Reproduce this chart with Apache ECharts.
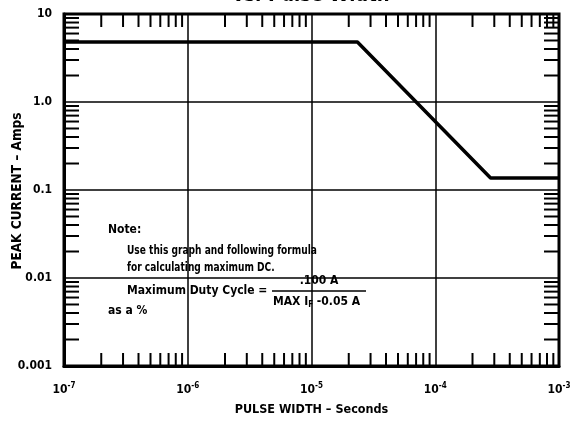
<!DOCTYPE html>
<html><head><meta charset="utf-8">
<script src="https://cdn.jsdelivr.net/npm/echarts@6/dist/echarts.min.js"></script>
<style>html,body{margin:0;padding:0;background:#fff}#c{width:571px;height:421px}</style>
</head><body><div id="c"></div>
<script>
// Data
var curveX = [1e-7, 2.35e-5, 2.8e-4, 1e-3];
var curveY = [4.8, 4.8, 0.137, 0.137];
var xTickExps = ['-7', '-6', '-5', '-4', '-3'];
var yTickLabels = ['0.001', '0.01', '0.1', '1.0', '10'];
var xMinorTicks = [];
var yMinorTicks = [];
[1e-7, 1e-6, 1e-5, 1e-4].forEach(function (d) { for (var k = 2; k <= 9; k++) xMinorTicks.push(d * k); });
[1e-3, 1e-2, 1e-1, 1].forEach(function (d) { for (var k = 2; k <= 9; k++) yMinorTicks.push(d * k); });

var FONT = '"Liberation Sans Narrow","DejaVu Sans Condensed","Liberation Sans",sans-serif';
var chart = echarts.init(document.getElementById('c'));

function tickSeries(vals, isX, len) {
  return {
    type: 'custom', silent: true, z: 5,
    data: vals.map(function (v) { return isX ? [v, 1] : [1e-5, v]; }),
    renderItem: function (params, api) {
      var cs = params.coordSys;
      var p = api.coord([api.value(0), api.value(1)]);
      var st = { stroke: '#000', lineWidth: 2 };
      if (isX) {
        var b = cs.y + cs.height, t = cs.y;
        return { type: 'group', children: [
          { type: 'line', shape: { x1: p[0], y1: b, x2: p[0], y2: b - len }, style: st },
          { type: 'line', shape: { x1: p[0], y1: t, x2: p[0], y2: t + len }, style: st }
        ]};
      } else {
        var l = cs.x, r = cs.x + cs.width;
        return { type: 'group', children: [
          { type: 'line', shape: { x1: l, y1: p[1], x2: l + len, y2: p[1] }, style: st },
          { type: 'line', shape: { x1: r, y1: p[1], x2: r - len, y2: p[1] }, style: st }
        ]};
      }
    }
  };
}

var txt = function (s, x, y, sx, extra) {
  var o = { type: 'text', x: x, y: y, scaleX: sx, style: { text: s, font: 'bold 12px ' + FONT, fill: '#000', textVerticalAlign: 'middle' } };
  if (extra) for (var k in extra) o.style[k] = extra[k];
  return o;
};

chart.setOption({
  animation: false,
  backgroundColor: '#fff',
  grid: { left: 64, right: 12, top: 14, bottom: 55, containLabel: false, outerBoundsMode: 'none' },
  xAxis: {
    type: 'log', logBase: 10, min: 1e-7, max: 1e-3, splitNumber: 4,
    name: 'PULSE WIDTH – Seconds', nameLocation: 'middle', nameGap: 37,
    nameTextStyle: { fontFamily: FONT, fontWeight: 'bold', fontSize: 12.5, color: '#000' },
    axisLine: { show: true, lineStyle: { color: '#000', width: 3 } },
    axisTick: { show: false },
    splitLine: { show: true, lineStyle: { color: '#000', width: 1.5 } },
    axisLabel: {
      margin: 16, color: '#000',
      formatter: function (v) { var i = Math.round(Math.log10(v)) + 7; return '{b|10}{s|' + xTickExps[i] + '}'; },
      rich: {
        b: { fontFamily: FONT, fontWeight: 'bold', fontSize: 12, color: '#000' },
        s: { fontFamily: FONT, fontWeight: 'bold', fontSize: 8, color: '#000', verticalAlign: 'top', padding: [0, 0, 8, 0] }
      }
    }
  },
  yAxis: {
    type: 'log', logBase: 10, min: 0.001, max: 10, splitNumber: 4,
    axisLine: { show: true, lineStyle: { color: '#000', width: 3 } },
    axisTick: { show: false },
    splitLine: { show: true, lineStyle: { color: '#000', width: 1.5 } },
    axisLabel: {
      margin: 12, color: '#000', fontFamily: FONT, fontWeight: 'bold', fontSize: 12,
      formatter: function (v) { return yTickLabels[Math.round(Math.log10(v)) + 3]; }
    }
  },
  graphic: [
    { type: 'rect', shape: { x: 64, y: 14, width: 495, height: 352 }, style: { fill: 'none', stroke: '#000', lineWidth: 3 }, z: 10 },
    {
      type: 'text', x: 17, y: 191, rotation: Math.PI / 2,
      style: { text: 'PEAK CURRENT – Amps', font: 'bold 13.5px ' + FONT, fill: '#000', textAlign: 'center', textVerticalAlign: 'middle' }
    },
    txt('vs. Pulse Width', 311, 6, 1, { font: 'bold 20px ' + FONT, textAlign: 'center', textVerticalAlign: 'bottom' }),
    txt('Note:', 108, 230, 1),
    txt('Use this graph and following formula', 127, 251, 0.84),
    txt('for calculating maximum DC.', 127, 268, 0.84),
    txt('Maximum Duty Cycle =', 127, 291, 1),
    txt('.100 A', 319, 281, 1, { textAlign: 'center' }),
    { type: 'line', shape: { x1: 272, y1: 291, x2: 366, y2: 291 }, style: { stroke: '#000', lineWidth: 1.5 } },
    {
      type: 'text', x: 273, y: 302,
      style: {
        text: '{a|MAX I}{s|F}{a| -0.05 A}',
        textVerticalAlign: 'middle',
        rich: {
          a: { font: 'bold 12px ' + FONT, fill: '#000' },
          s: { font: 'bold 8px ' + FONT, fill: '#000', verticalAlign: 'bottom', padding: [6, 0, 0, 0] }
        }
      }
    },
    txt('as a %', 108, 311, 1)
  ],
  series: [
    {
      type: 'line', symbol: 'none', z: 8,
      lineStyle: { color: '#000', width: 3.5 },
      data: curveX.map(function (x, i) { return [x, curveY[i]]; })
    },
    tickSeries(xMinorTicks, true, 13),
    tickSeries(yMinorTicks, false, 15)
  ]
});
</script></body></html>
